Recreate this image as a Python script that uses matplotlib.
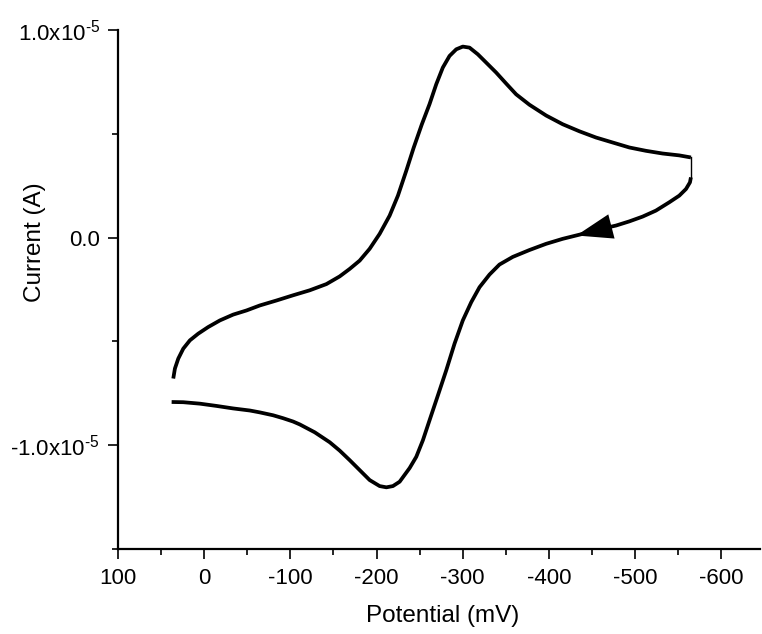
import numpy as np
import matplotlib
matplotlib.use("Agg")
import matplotlib.pyplot as plt
from matplotlib.ticker import MultipleLocator, FixedLocator

plt.rcParams['font.family'] = ['Liberation Sans', 'DejaVu Sans']
plt.rcParams['mathtext.fontset'] = 'custom'
plt.rcParams['mathtext.rm'] = 'Liberation Sans'
plt.rcParams['mathtext.it'] = 'Liberation Sans'

# Forward branch (upper), potential in mV, current in units of 1e-5 A
E_fwd = [35.9, 34.0, 30.1, 24.3, 16.6, 7.0, -4.6, -18.2, -33.6, -49.1, -64.5,
         -83.9, -103.1, -122.4, -141.8, -157.2, -168.8, -180.4, -192.0,
         -203.6, -215.2, -224.8, -234.5, -243.0, -252.5, -261.5, -269.3,
         -276.9, -284.7, -292.5, -300.1, -307.9, -317.5, -327.2, -338.8,
         -350.4, -362.0, -377.4, -396.8, -416.0, -435.4, -454.7, -474.0,
         -493.4, -512.6, -531.9, -551.2, -564.8]
I_fwd = [-0.679, -0.631, -0.583, -0.535, -0.495, -0.463, -0.431, -0.399,
         -0.371, -0.351, -0.327, -0.303, -0.278, -0.254, -0.224, -0.187,
         -0.151, -0.111, -0.054, 0.018, 0.106, 0.202, 0.322, 0.432, 0.545,
         0.643, 0.739, 0.819, 0.875, 0.907, 0.920, 0.915, 0.883, 0.843,
         0.795, 0.742, 0.690, 0.640, 0.588, 0.546, 0.512, 0.482, 0.458,
         0.434, 0.418, 0.405, 0.396, 0.386]

# Switching segment at the vertex
E_sw = [-564.8, -564.8]
I_sw = [0.386, 0.290]

# Reverse branch (lower)
E_rev = [-564.8, -563.7, -559.1, -551.3, -539.7, -524.2, -508.7, -493.3,
         -477.9, -466.3, -450.8, -435.4, -416.0, -396.8, -377.4, -358.1,
         -342.6, -331.1, -319.5, -309.9, -300.1, -290.5, -280.9, -271.2,
         -261.5, -253.8, -246.1, -238.4, -226.8, -219.0, -211.4, -203.6,
         -192.0, -180.4, -168.8, -157.2, -145.7, -128.3, -110.9, -103.1,
         -91.5, -80.0, -64.5, -53.0, -33.6, -14.4, 5.0, 24.3, 37.8]
I_rev = [0.290, 0.266, 0.234, 0.202, 0.170, 0.130, 0.101, 0.078, 0.058,
         0.047, 0.030, 0.014, -0.006, -0.030, -0.060, -0.093, -0.130,
         -0.178, -0.239, -0.311, -0.399, -0.511, -0.639, -0.760, -0.880,
         -0.976, -1.056, -1.110, -1.176, -1.197, -1.203, -1.197, -1.168,
         -1.120, -1.072, -1.026, -0.986, -0.938, -0.900, -0.886, -0.870,
         -0.856, -0.842, -0.833, -0.823, -0.811, -0.800, -0.793, -0.792]

# Scan direction arrow (tail -> tip), on the reverse branch
arrow_tail = (-472, 0.053)
arrow_tip = (-432, 0.010)

scale = 1e-5

fig = plt.figure(figsize=(7.62, 6.34), dpi=100)
ax = fig.add_axes([0.1549, 0.1341, 0.8425, 0.8186])

ax.plot(E_fwd, np.array(I_fwd) * scale, color='black', lw=2.7,
        solid_joinstyle='round', solid_capstyle='butt')
ax.plot(E_sw, np.array(I_sw) * scale, color='black', lw=1.0)
ax.plot(E_rev, np.array(I_rev) * scale, color='black', lw=2.7,
        solid_joinstyle='round', solid_capstyle='butt')

ax.annotate('', xy=(arrow_tip[0], arrow_tip[1] * scale),
            xytext=(arrow_tail[0], arrow_tail[1] * scale),
            arrowprops=dict(arrowstyle='-|>,head_length=1.3,head_width=0.45',
                            mutation_scale=20, color='black', lw=0,
                            shrinkA=0, shrinkB=0))

ax.set_xlim(100, -645)
ax.set_ylim(-1.5e-5, 1.0e-5)

ax.spines['top'].set_visible(False)
ax.spines['right'].set_visible(False)
for s in ['left', 'bottom']:
    ax.spines[s].set_linewidth(1.6)

xticks = [100, 0, -100, -200, -300, -400, -500, -600]
xticklabels = ['100', '0', '-100', '-200', '-300', '-400', '-500', '-600']
ax.set_xticks(xticks)
ax.set_xticklabels(xticklabels)
ax.xaxis.set_minor_locator(MultipleLocator(50))

yticks = [-1.0e-5, 0.0, 1.0e-5]
yticklabels = [r'-1.0x10$\mathregular{^{\text{-}5}}$', '0.0',
               r'1.0x10$\mathregular{^{\text{-}5}}$']
ax.set_yticks(yticks)
ax.set_yticklabels(yticklabels)
ax.yaxis.set_minor_locator(FixedLocator([-1.5e-5, -0.5e-5, 0.5e-5]))

ax.tick_params(which='major', direction='out', length=7, width=1.2,
               labelsize=16)
ax.tick_params(axis='x', which='major', pad=7)
ax.tick_params(axis='y', which='major', pad=6)
ax.tick_params(which='minor', direction='out', length=4, width=1.2)

ax.set_xlabel('Potential (mV)', fontsize=17.5, va='center')
ax.xaxis.set_label_coords(0.505, -0.13)
ax.set_ylabel('Current (A)', fontsize=17.5, va='center')
ax.yaxis.set_label_coords(-0.13, 0.592)

fig.savefig('out.png', dpi=100)
